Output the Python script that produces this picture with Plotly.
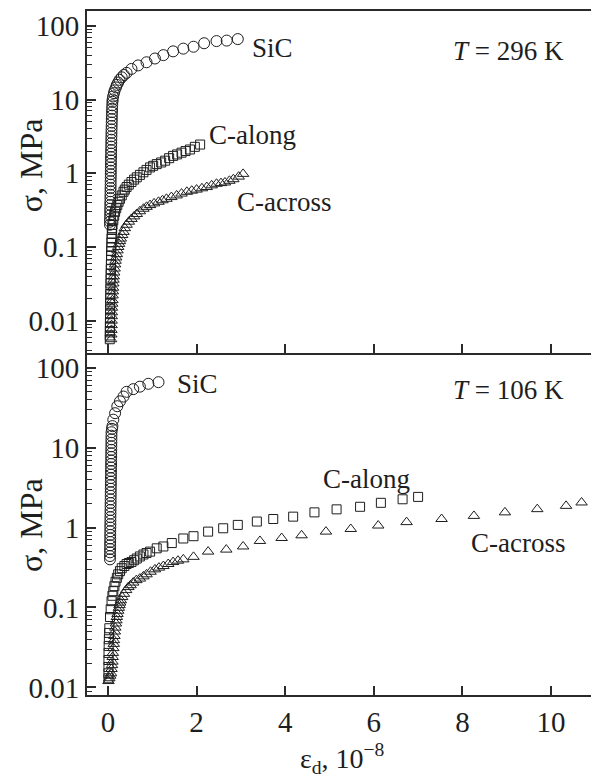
import plotly.graph_objects as go

# ---------------- Data: top panel, T = 296 K ----------------
top_sic_x = [0.045, 0.045, 0.047, 0.048, 0.05, 0.05, 0.052, 0.053, 0.055, 0.056, 0.057, 0.058,
             0.06, 0.06, 0.062, 0.063, 0.064, 0.065, 0.066, 0.067, 0.068, 0.07, 0.071, 0.072,
             0.074, 0.075, 0.077, 0.078, 0.08, 0.082, 0.084, 0.086, 0.088, 0.09, 0.093, 0.096,
             0.1, 0.105, 0.115, 0.135, 0.15, 0.18, 0.2, 0.23, 0.26, 0.31, 0.36, 0.42, 0.53,
             0.68, 0.87, 1.06, 1.25, 1.47, 1.70, 1.93, 2.17, 2.45, 2.68, 2.93]
top_sic_y = [0.20, 0.22, 0.24, 0.27, 0.30, 0.33, 0.37, 0.41, 0.46, 0.51, 0.57, 0.63,
             0.70, 0.78, 0.87, 0.97, 1.08, 1.2, 1.34, 1.49, 1.66, 1.85, 2.06, 2.3,
             2.56, 2.85, 3.17, 3.53, 3.93, 4.38, 4.88, 5.43, 6.05, 6.74, 7.5, 8.35,
             9.3, 10.0, 11.0, 12.2, 13.3, 14.6, 15.8, 17.0, 18.5, 20.0, 21.5, 23.0, 26.0,
             29.0, 32.0, 36.0, 40.0, 45.0, 49.0, 52.0, 58.0, 62.0, 63.0, 66.0]

top_along_x = [0.04, 0.041, 0.042, 0.043, 0.044, 0.045, 0.046, 0.047, 0.048, 0.05, 0.052,
               0.054, 0.056, 0.058, 0.06, 0.063, 0.065, 0.068, 0.07, 0.072, 0.075, 0.078,
               0.08, 0.085, 0.09, 0.095, 0.1, 0.12, 0.14, 0.16, 0.185, 0.21, 0.24, 0.27,
               0.31, 0.35, 0.38, 0.42, 0.47, 0.53, 0.59, 0.65, 0.72, 0.80, 0.87, 0.95,
               1.02, 1.10, 1.20, 1.29, 1.38, 1.47, 1.56, 1.66, 1.75, 1.85, 1.96, 2.08]
top_along_y = [0.0056, 0.0063, 0.0072, 0.0083, 0.0095, 0.011, 0.0125, 0.0145, 0.017, 0.020,
               0.023, 0.027, 0.032, 0.037, 0.043, 0.050, 0.058, 0.067, 0.077, 0.088, 0.100,
               0.115, 0.13, 0.15, 0.17, 0.18, 0.20, 0.23, 0.265, 0.30, 0.335, 0.37, 0.41,
               0.45, 0.50, 0.56, 0.60, 0.65, 0.70, 0.76, 0.82, 0.88, 0.95, 1.03, 1.11, 1.20,
               1.26, 1.33, 1.40, 1.48, 1.60, 1.72, 1.80, 1.90, 2.00, 2.10, 2.28, 2.45]

top_across_x = [0.07, 0.075, 0.078, 0.08, 0.082, 0.085, 0.088, 0.09, 0.095, 0.1, 0.105, 0.11,
                0.115, 0.12, 0.125, 0.13, 0.14, 0.15, 0.16, 0.17, 0.185, 0.2, 0.215, 0.23,
                0.25, 0.27, 0.29, 0.32, 0.35, 0.38, 0.42, 0.47, 0.53, 0.59, 0.65, 0.72, 0.80,
                0.87, 0.95, 1.04, 1.14, 1.23, 1.32, 1.43, 1.55, 1.66, 1.78, 1.89, 2.0, 2.12,
                2.23, 2.34, 2.45, 2.55, 2.64, 2.74, 2.83, 2.95, 3.05]
top_across_y = [0.0056, 0.0065, 0.0075, 0.0087, 0.010, 0.0115, 0.013, 0.015, 0.017, 0.019,
                0.022, 0.025, 0.028, 0.032, 0.036, 0.040, 0.045, 0.051, 0.058, 0.065, 0.072,
                0.080, 0.090, 0.100, 0.110, 0.120, 0.130, 0.145, 0.160, 0.180, 0.200, 0.220,
                0.240, 0.260, 0.280, 0.305, 0.330, 0.350, 0.370, 0.390, 0.410, 0.430, 0.450,
                0.475, 0.500, 0.530, 0.560, 0.580, 0.600, 0.625, 0.650, 0.685, 0.720, 0.735,
                0.750, 0.790, 0.830, 0.900, 0.980]

# ---------------- Data: bottom panel, T = 106 K ----------------
bot_sic_x = [0.045, 0.045, 0.046, 0.047, 0.048, 0.049, 0.05, 0.05, 0.051, 0.052, 0.053,
             0.054, 0.055, 0.056, 0.057, 0.058, 0.059, 0.06, 0.061, 0.062, 0.063, 0.064,
             0.065, 0.066, 0.067, 0.068, 0.069, 0.07, 0.071, 0.072, 0.073, 0.074, 0.075,
             0.076, 0.077, 0.078, 0.08, 0.09, 0.10, 0.12, 0.16, 0.21, 0.27, 0.35, 0.42,
             0.57, 0.72, 0.91, 1.14]
bot_sic_y = [0.40, 0.44, 0.49, 0.54, 0.60, 0.66, 0.73, 0.81, 0.90, 1.0, 1.1, 1.22, 1.35,
             1.5, 1.66, 1.84, 2.03, 2.25, 2.5, 2.76, 3.06, 3.4, 3.76, 4.16, 4.6, 5.1, 5.65,
             6.25, 6.9, 7.65, 8.5, 9.4, 10.4, 11.5, 12.7, 14.1, 15.6, 17.2, 18.6, 22.4, 27.0,
             33.0, 38.0, 43.6, 50.0, 54.0, 58.0, 63.0, 66.0]

bot_along_x = [0.01, 0.01, 0.01, 0.01, 0.012, 0.015, 0.02, 0.025, 0.03, 0.045, 0.06, 0.08,
               0.1, 0.12, 0.145, 0.17, 0.2, 0.23, 0.27, 0.31, 0.37, 0.42, 0.47, 0.53, 0.59,
               0.65, 0.72, 0.80, 0.87, 0.95, 1.10, 1.25, 1.44, 1.70, 1.93, 2.26, 2.60, 2.93,
               3.36, 3.73, 4.18, 4.66, 5.16, 5.69, 6.16, 6.65, 7.0]
bot_along_y = [0.013, 0.015, 0.018, 0.022, 0.027, 0.033, 0.040, 0.048, 0.055, 0.076, 0.095,
               0.12, 0.14, 0.16, 0.185, 0.21, 0.235, 0.26, 0.285, 0.31, 0.33, 0.35, 0.36,
               0.37, 0.39, 0.41, 0.435, 0.46, 0.48, 0.50, 0.55, 0.58, 0.64, 0.73, 0.78, 0.89,
               0.98, 1.08, 1.19, 1.28, 1.37, 1.55, 1.69, 1.82, 2.04, 2.26, 2.42]

bot_across_x = [0.01, 0.03, 0.05, 0.07, 0.08, 0.09, 0.1, 0.105, 0.11, 0.12, 0.13, 0.135, 0.145,
                0.155, 0.165, 0.18, 0.19, 0.2, 0.215, 0.23, 0.245, 0.26, 0.275, 0.29, 0.32,
                0.36, 0.41, 0.46, 0.51, 0.57, 0.64, 0.72, 0.80, 0.87, 0.96, 1.06, 1.15, 1.25,
                1.36, 1.47, 1.58, 1.70, 1.93, 2.26, 2.67, 3.05, 3.43, 3.92, 4.37, 4.92, 5.48,
                6.10, 6.74, 7.53, 8.26, 8.96, 9.69, 10.34, 10.69]
bot_across_y = [0.012, 0.013, 0.014, 0.015, 0.017, 0.019, 0.021, 0.024, 0.027, 0.031, 0.035,
                0.039, 0.044, 0.050, 0.056, 0.063, 0.069, 0.076, 0.083, 0.091, 0.099, 0.107,
                0.115, 0.123, 0.135, 0.148, 0.165, 0.180, 0.190, 0.205, 0.220, 0.230, 0.245,
                0.260, 0.280, 0.300, 0.315, 0.330, 0.350, 0.370, 0.385, 0.400, 0.430, 0.500,
                0.530, 0.580, 0.680, 0.740, 0.800, 0.890, 0.960, 1.060, 1.170, 1.280, 1.400,
                1.550, 1.700, 1.870, 2.060]

x_ticks = [0, 2, 4, 6, 8, 10]
y_ticks = [0.01, 0.1, 1, 10, 100]
y_tick_text = ["0.01", "0.1", "1", "10", "100"]
y_minor = [m * d for d in [0.001, 0.01, 0.1, 1, 10, 100] for m in range(2, 10)]

# ---------------- Figure ----------------
W, H = 599, 778
OFF = 8  # page body margin in the browser
FONT = "Liberation Serif, Times New Roman, serif"
INK = "#1e1e1e"
AX = "#2a2a2a"


def fx(px):
    return (px - OFF) / W


def fy(py):
    return 1 - (py - OFF) / H


fig = go.Figure()


def add(x, y, symbol, size, xa, ya):
    fig.add_trace(go.Scatter(
        x=x, y=y, mode="markers", xaxis=xa, yaxis=ya, showlegend=False, hoverinfo="skip",
        marker=dict(symbol=symbol, size=size, color=INK, line=dict(width=1, color=INK)),
    ))


add(top_sic_x, top_sic_y, "circle-open", 11, "x", "y")
add(top_along_x, top_along_y, "square-open", 9, "x", "y")
add(top_across_x, top_across_y, "triangle-up-open", 10, "x", "y")
add(bot_sic_x, bot_sic_y, "circle-open", 11, "x2", "y2")
add(bot_along_x, bot_along_y, "square-open", 9, "x2", "y2")
add(bot_across_x, bot_across_y, "triangle-up-open", 10, "x2", "y2")

# plot area: left edge 87 px, 44.3 px per unit, x=0 at 108 px
x_dom = [fx(87), 1.0]
x_rng = [-0.474, -0.474 + (W + OFF - 87) / 44.3]
tickfont = dict(family=FONT, size=29, color=INK)

common_x = dict(range=x_rng, domain=x_dom, tickvals=x_ticks, ticks="inside", ticklen=9,
                tickwidth=1.5, tickcolor=AX, showline=True, linecolor=AX, linewidth=2,
                showgrid=False, zeroline=False, tickfont=tickfont)
common_y = dict(type="log", tickvals=y_ticks, ticktext=y_tick_text, ticks="inside",
                ticklen=9, tickwidth=1.5, tickcolor=AX, showline=True, linecolor=AX,
                linewidth=2, showgrid=False, zeroline=False, tickfont=tickfont,
                minor=dict(tickvals=y_minor, ticks="inside", ticklen=5, tickwidth=1,
                           tickcolor=AX, showgrid=False))

fig.update_layout(
    width=W, height=H, margin=dict(l=0, r=0, t=0, b=0),
    paper_bgcolor="white", plot_bgcolor="white",
    xaxis=dict(common_x, anchor="y", showticklabels=False, mirror=True),
    yaxis=dict(common_y, anchor="x", domain=[fy(356), fy(10)], range=[-2.438, 2.201]),
    xaxis2=dict(common_x, anchor="y2", showticklabels=True),
    yaxis2=dict(common_y, anchor="x2", domain=[fy(702), fy(356)], range=[-2.095, 2.185]),
)

lab = dict(family=FONT, size=27, color=INK)
notes = [
    ("SiC", 250, 47), ("C-along", 207, 135), ("C-across", 235, 203),
    ("<i>T</i> = 296 K", 451, 50),
    ("SiC", 175, 387), ("C-along", 321, 483), ("C-across", 469, 548),
    ("<i>T</i> = 106 K", 451, 393),
]
for text, px, py in notes:
    fig.add_annotation(text=text, x=fx(px), y=fy(py), xref="paper", yref="paper",
                       xanchor="left", yanchor="middle", showarrow=False, font=lab)

title_font = dict(family=FONT, size=32, color=INK)
for py in [166, 530]:
    fig.add_annotation(text="σ, MPa", x=fx(31), y=fy(py), xref="paper", yref="paper",
                       xanchor="center", yanchor="middle", textangle=-90, showarrow=False,
                       font=title_font)

fig.add_annotation(text="ε<sub>d</sub>, 10<sup>−8</sup>", x=fx(342), y=fy(766),
                   xref="paper", yref="paper", xanchor="center", yanchor="middle",
                   showarrow=False, font=dict(family=FONT, size=28, color=INK))

fig.write_html("out.html")
